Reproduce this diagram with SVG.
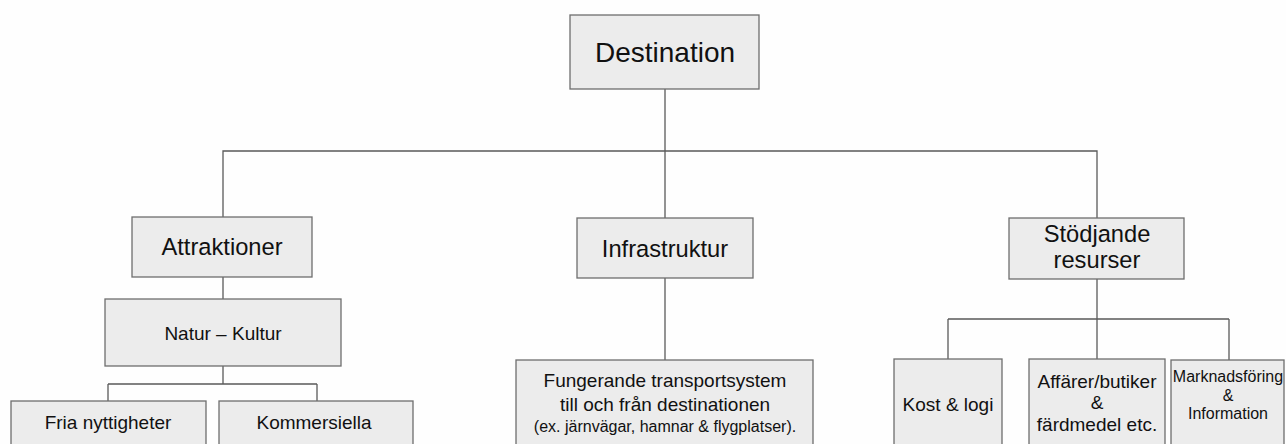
<svg xmlns="http://www.w3.org/2000/svg" width="1286" height="444" viewBox="0 0 1286 444">
<style>
.box{fill:#ececec;stroke:#6e6e6e;stroke-width:1.3}
.ln{fill:none;stroke:#5a5a5a;stroke-width:1.3}
text{font-family:"Liberation Sans",Arial,sans-serif;fill:#111;text-anchor:middle}
</style>
<rect width="1286" height="444" fill="#fefefe"/>
<g id="connectors">
<path class="ln" d="M665 89V218M223 217V151H1097V218"/>
<path class="ln" d="M223 277V299M223 366V384M108 384H317M108 384V401M317 384V401"/>
<path class="ln" d="M665 278V360"/>
<path class="ln" d="M1097 279V319M948 319H1229M948 319V359M1097 319V359M1229 319V360"/>
</g>
<g id="destination"><rect class="box" x="570" y="15" width="189" height="74"/><text x="665" y="62" font-size="28">Destination</text></g>
<g id="attraktioner"><rect class="box" x="132" y="217" width="180" height="60"/><text x="222" y="255" font-size="23.7">Attraktioner</text></g>
<g id="infrastruktur"><rect class="box" x="577" y="218" width="176" height="60"/><text x="665" y="257" font-size="23.7">Infrastruktur</text></g>
<g id="stodjande"><rect class="box" x="1009" y="218" width="175" height="61"/><text x="1097" y="242" font-size="23.7">Stödjande</text><text x="1097" y="268" font-size="23.7">resurser</text></g>
<g id="natur-kultur"><rect class="box" x="105" y="299" width="236" height="67"/><text x="223" y="340" font-size="19">Natur – Kultur</text></g>
<g id="fria"><rect class="box" x="11" y="401" width="195" height="50"/><text x="108" y="429" font-size="19">Fria nyttigheter</text></g>
<g id="kommersiella"><rect class="box" x="219" y="401" width="194" height="50"/><text x="314" y="429" font-size="19">Kommersiella</text></g>
<g id="transport"><rect class="box" x="516" y="360" width="297" height="90"/><text x="665" y="387" font-size="19">Fungerande transportsystem</text><text x="665" y="411" font-size="19">till och från destinationen</text><text x="665" y="432" font-size="16">(ex. järnvägar, hamnar &amp; flygplatser).</text></g>
<g id="kost"><rect class="box" x="894" y="359" width="108" height="92"/><text x="948" y="411" font-size="19">Kost &amp; logi</text></g>
<g id="affarer"><rect class="box" x="1029" y="359" width="136" height="92"/><text x="1097" y="388" font-size="19">Affärer/butiker</text><text x="1097" y="409" font-size="19">&amp;</text><text x="1097" y="431" font-size="19">färdmedel etc.</text></g>
<g id="marknad"><rect class="box" x="1171" y="360" width="113" height="91"/><text x="1228" y="382" font-size="16">Marknadsföring</text><text x="1228" y="401" font-size="16">&amp;</text><text x="1228" y="419" font-size="16">Information</text></g>
</svg>
